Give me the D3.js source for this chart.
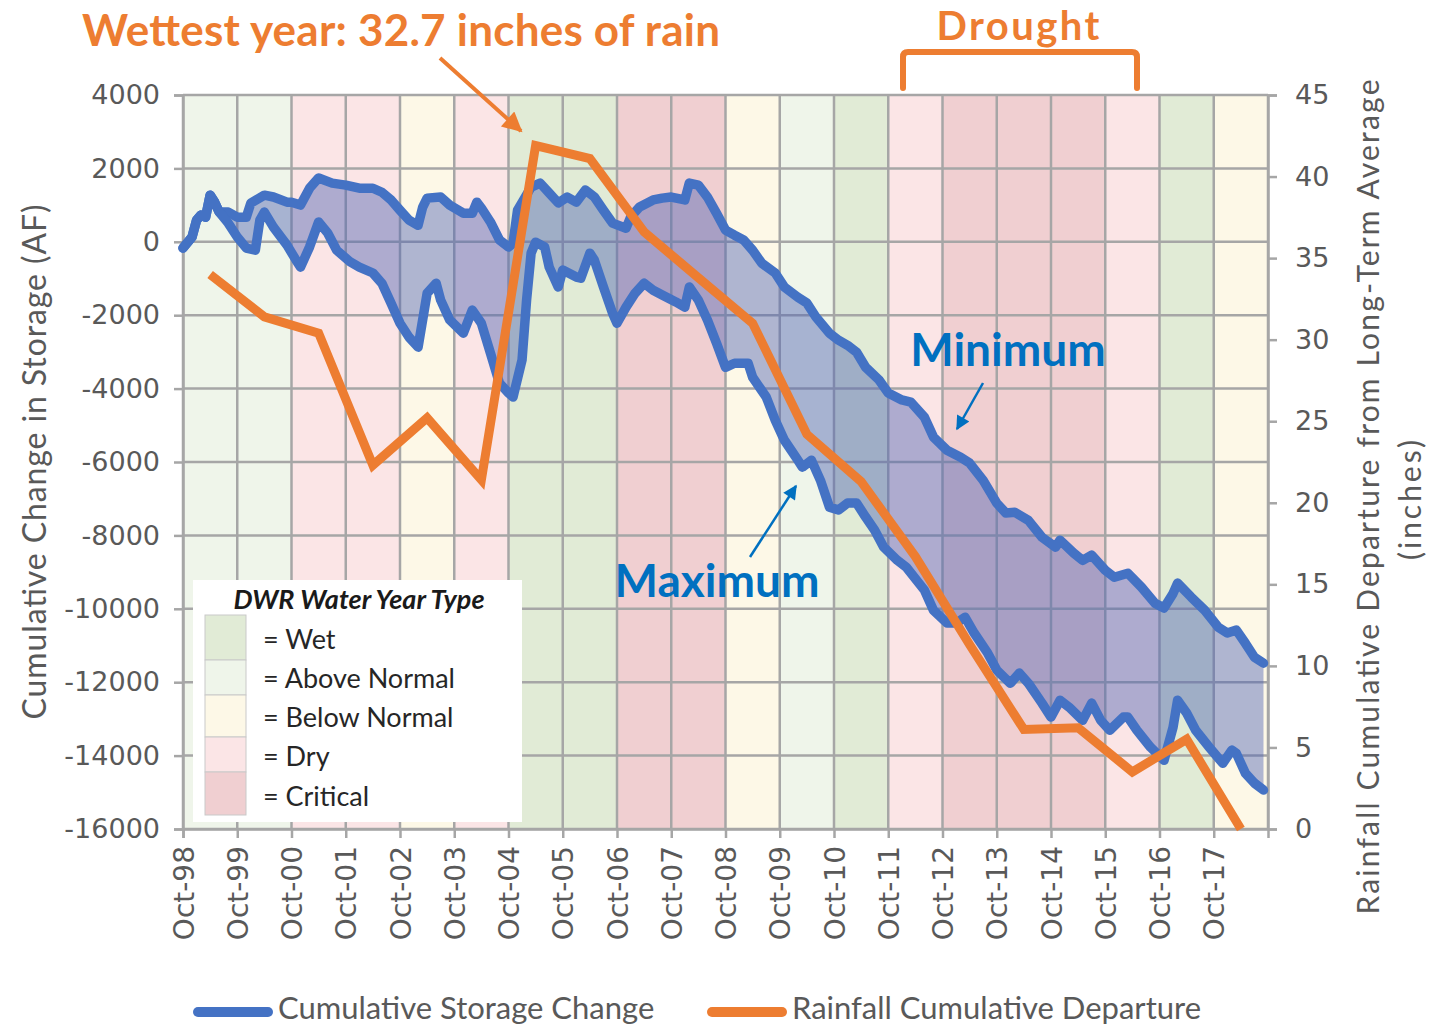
<!DOCTYPE html>
<html>
<head>
<meta charset="utf-8">
<script src="https://cdn.jsdelivr.net/npm/d3@7"></script>
<style>
  html, body { margin: 0; padding: 0; background: #ffffff; }
  svg { display: block; }
</style>
</head>
<body>
<svg id="chart" width="1447" height="1028"></svg>
<script>
// ---------------- DATA ----------------
const xTickLabels = ["Oct-98","Oct-99","Oct-00","Oct-01","Oct-02","Oct-03","Oct-04","Oct-05","Oct-06","Oct-07",
                     "Oct-08","Oct-09","Oct-10","Oct-11","Oct-12","Oct-13","Oct-14","Oct-15","Oct-16","Oct-17"];
// DWR water year type of each water year (Oct-98 .. Oct-17 start)
const yearTypes = ["AN","AN","D","D","BN","D","W","W","C","C","BN","AN","W","D","C","C","C","D","W","BN"];
const typeNames = ["Wet","Above Normal","Below Normal","Dry","Critical"];
const typeKeys  = ["W","AN","BN","D","C"];

const leftTicks  = [4000,2000,0,-2000,-4000,-6000,-8000,-10000,-12000,-14000,-16000];
const rightTicks = [45,40,35,30,25,20,15,10,5,0];

// Minimum (upper) cumulative storage change: months since Oct-98, AF
const minMonths = [0,2,3,4,5,6,7,8,10,12,14,15,18,20,23,24,26,28,30,33,36,39,42,44,46,48,50,52,53,54,57,59,62,64,65,66,68,70,72,73,74,77,79,81,83,85,87,89,91,93,95,98,99,101,104,106,108,111,112,114,116,118,120,122,124,126,128,131,133,136,138,140,143,145,147,149,151,154,156,159,161,164,166,169,172,174,177,180,182,184,187,190,193,194,197,199,201,204,206,209,212,215,217,219,220,223,226,229,231,233,235,237,239];
const minValues = [-170,130,590,730,670,1270,1080,810,810,670,670,1055,1270,1220,1080,1080,1000,1460,1740,1600,1545,1460,1460,1350,1140,860,590,450,940,1190,1220,1000,780,780,1080,920,540,50,-140,-40,860,1490,1600,1330,1060,1220,1080,1410,1220,860,510,370,670,950,1140,1190,1220,1140,1600,1545,1220,780,320,180,50,-230,-580,-850,-1230,-1510,-1670,-2050,-2490,-2680,-2820,-3010,-3420,-3770,-4120,-4310,-4370,-4780,-5320,-5680,-5870,-6030,-6500,-7120,-7390,-7370,-7590,-8050,-8320,-8130,-8480,-8680,-8540,-8950,-9140,-9030,-9410,-9850,-9980,-9580,-9300,-9680,-10040,-10500,-10660,-10580,-10940,-11320,-11480];

// Maximum (lower) cumulative storage change: months since Oct-98, AF
const maxMonths = [0,2,3,4,5,6,7,8,10,12,14,16,17,18,20,23,25,26,28,30,32,34,37,39,42,44,46,48,50,52,54,56,57,59,62,64,66,68,70,72,73,75,76,77,78,80,81,83,84,87,88,90,91,93,95,96,98,100,102,104,106,109,111,112,114,116,118,120,122,125,126,129,131,133,136,137,139,141,143,145,147,149,151,153,155,158,160,164,166,169,171,173,175,178,180,183,185,187,190,192,194,196,199,201,203,205,208,209,211,214,217,219,220,222,224,227,230,232,233,235,237,239];
const maxValues = [-170,130,590,730,670,1270,1080,810,510,130,-170,-230,590,810,400,-90,-500,-690,-140,540,240,-230,-550,-690,-850,-1130,-1670,-2220,-2600,-2870,-1400,-1130,-1590,-2130,-2490,-1860,-2220,-3030,-3850,-4120,-4230,-3220,-1590,-310,-10,-140,-690,-1230,-770,-960,-990,-310,-500,-1230,-1940,-2220,-1780,-1400,-1130,-1320,-1450,-1640,-1780,-1230,-1590,-2130,-2760,-3420,-3310,-3310,-3690,-4230,-4860,-5400,-5950,-6140,-5950,-6500,-7230,-7310,-7120,-7120,-7500,-7860,-8320,-8680,-8870,-9490,-10040,-10390,-10390,-10230,-10660,-11210,-11670,-12030,-11750,-12030,-12570,-12950,-12490,-12680,-13040,-12570,-13040,-13310,-12950,-12950,-13310,-13770,-14130,-13230,-12490,-12840,-13310,-13770,-14210,-13850,-13940,-14480,-14750,-14940];

// Rainfall cumulative departure (inches), plotted each April
const rainMonths = [6,18,30,42,54,66,78,90,102,114,126,138,150,162,174,186,198,210,222,234];
const rainValues = [34.0,31.4,30.4,22.3,25.2,21.4,41.9,41.1,36.6,33.8,31.0,24.2,21.3,16.7,11.3,6.1,6.2,3.5,5.5,0.0];

// ---------------- STYLE ----------------
const bgColors = { W:"#e1ebd6", AN:"#eff5ea", BN:"#fdf8e7", D:"#fbe5e6", C:"#f0cfd1" };
const blue = "#4472C4", orange = "#ED7D31", textBlue = "#0070C0", axisGray = "#595959", gridGray = "#a6a6a6";

const L = 183, R = 1268, T = 95, B = 829;
const svg = d3.select("#chart");

const x  = d3.scaleLinear().domain([0, 240]).range([L, R]);
const yL = d3.scaleLinear().domain([-16000, 4000]).range([B, T]);
const yR = d3.scaleLinear().domain([0, 45]).range([B, T]);

// background bands
svg.append("g").selectAll("rect").data(yearTypes).join("rect")
  .attr("x", (d, i) => x(i * 12)).attr("y", T)
  .attr("width", (d, i) => x((i + 1) * 12) - x(i * 12)).attr("height", B - T)
  .attr("fill", d => bgColors[d]);

// grid
const grid = svg.append("g").attr("stroke", gridGray).attr("stroke-width", 2.5);
grid.selectAll("line.h").data(leftTicks).join("line").attr("class","h")
  .attr("x1", L).attr("x2", R).attr("y1", d => yL(d)).attr("y2", d => yL(d));
grid.selectAll("line.v").data(d3.range(0, 21)).join("line").attr("class","v")
  .attr("x1", d => x(d * 12)).attr("x2", d => x(d * 12)).attr("y1", T).attr("y2", B);

// axes
const axL = svg.append("g").attr("transform", `translate(${L},0)`)
  .call(d3.axisLeft(yL).tickValues(leftTicks).tickSize(9).tickPadding(14).tickFormat(d => String(d)));
const axR = svg.append("g").attr("transform", `translate(${R},0)`)
  .call(d3.axisRight(yR).tickValues(rightTicks).tickSize(9).tickPadding(18));
const axB = svg.append("g").attr("transform", `translate(0,${B})`)
  .call(d3.axisBottom(x).tickValues(d3.range(0, 20).map(i => i * 12)).tickSize(9)
        .tickFormat((d, i) => xTickLabels[i]));
[axL, axR, axB].forEach(a => {
  a.select(".domain").attr("stroke", gridGray).attr("stroke-width", 2.5);
  a.selectAll(".tick line").attr("stroke", gridGray).attr("stroke-width", 2.5);
  a.selectAll("text").attr("fill", axisGray).style("font-family", "DejaVu Sans").style("font-size", "27px");
});
axB.selectAll("text")
  .style("font-size", "28px")
  .attr("transform", "rotate(-90)").attr("text-anchor", "end")
  .attr("x", -17).attr("y", 0).attr("dy", "0.36em");

// legend box (water year type)
const lg = svg.append("g");
lg.append("rect").attr("x", 193).attr("y", 580).attr("width", 329).attr("height", 242).attr("fill", "#ffffff");
lg.append("text").attr("x", 359).attr("y", 609).attr("text-anchor", "middle")
  .style("font-family", "Lato").style("font-weight", "bold").style("font-style", "italic")
  .style("font-size", "27px").attr("fill", "#1a1a1a").text("DWR Water Year Type");
const swY = [615, 660, 695, 737, 772, 815];
typeKeys.forEach((k, i) => {
  lg.append("rect").attr("x", 205).attr("y", swY[i]).attr("width", 41).attr("height", swY[i + 1] - swY[i])
    .attr("fill", bgColors[k]).attr("stroke", "#c9c9c9").attr("stroke-width", 1);
});
const labY = [640, 679, 718, 757, 797];
typeNames.forEach((n, i) => {
  lg.append("text").attr("x", 263).attr("y", labY[i]).attr("dy", "0.35em")
    .style("font-family", "Lato").style("font-size", "27px").attr("fill", "#262626").text("= " + n);
});

// filled band between min and max
const minPts = minMonths.map((m, i) => [m, minValues[i]]);
const maxPts = maxMonths.map((m, i) => [m, maxValues[i]]);
const poly = minPts.concat(maxPts.slice().reverse());
const lineGen = d3.line().x(d => x(d[0])).y(d => yL(d[1]));
svg.append("path").attr("d", lineGen(poly) + "Z")
  .attr("fill", "rgb(80,100,180)").attr("fill-opacity", 0.45);

// blue lines
[minPts, maxPts].forEach(pts => {
  svg.append("path").attr("d", lineGen(pts)).attr("fill", "none")
    .attr("stroke", blue).attr("stroke-width", 9.5).attr("stroke-linejoin", "round").attr("stroke-linecap", "round");
});

// orange line
const rainLine = d3.line().x(d => x(d[0])).y(d => yR(d[1]));
svg.append("path").attr("d", rainLine(rainMonths.map((m, i) => [m, rainValues[i]])))
  .attr("fill", "none").attr("stroke", orange).attr("stroke-width", 9)
  .attr("stroke-linejoin", "miter").attr("stroke-linecap", "butt");

// axis titles
svg.append("text").attr("transform", "translate(35,462) rotate(-90)").attr("text-anchor", "middle")
  .attr("dy", "0.35em").style("font-family", "Lato").style("font-size", "32px").attr("fill", axisGray)
  .attr("textLength", 515).attr("lengthAdjust", "spacing")
  .text("Cumulative Change in Storage (AF)");
svg.append("text").attr("transform", "translate(1368,497) rotate(-90)").attr("text-anchor", "middle")
  .attr("dy", "0.35em").style("font-family", "Lato").style("font-size", "30px").attr("fill", axisGray)
  .attr("textLength", 835).attr("lengthAdjust", "spacing")
  .text("Rainfall Cumulative Departure from Long-Term  Average");
svg.append("text").attr("transform", "translate(1410,500) rotate(-90)").attr("text-anchor", "middle")
  .attr("dy", "0.35em").style("font-family", "Lato").style("font-size", "30px").attr("fill", axisGray)
  .attr("textLength", 120).attr("lengthAdjust", "spacing")
  .text("(inches)");

// bottom legend
const bl = svg.append("g");
[[193, blue, "Cumulative Storage Change"], [707, orange, "Rainfall Cumulative Departure"]].forEach(([x0, c, t]) => {
  bl.append("line").attr("x1", x0 + 5).attr("x2", x0 + 75).attr("y1", 1012).attr("y2", 1012)
    .attr("stroke", c).attr("stroke-width", 10).attr("stroke-linecap", "round");
  bl.append("text").attr("x", x0 + 85).attr("y", 1008).attr("dy", "0.35em")
    .style("font-family", "Lato").style("font-size", "31px").attr("fill", axisGray).text(t);
});

// annotations
const defs = svg.append("defs");
function marker(id, color, w, h) {
  defs.append("marker").attr("id", id).attr("viewBox", "0 0 10 10").attr("refX", 9).attr("refY", 5)
    .attr("markerWidth", w).attr("markerHeight", h).attr("orient", "auto").attr("markerUnits", "userSpaceOnUse")
    .append("path").attr("d", "M0,0 L10,5 L0,10 Z").attr("fill", color);
}
marker("arrO", orange, 24, 20);
marker("arrB", textBlue, 18, 14);

svg.append("text").attr("x", 82).attr("y", 46)
  .style("font-family", "Lato").style("font-weight", "bold").style("font-size", "44px").attr("fill", orange)
  .attr("textLength", 638).attr("lengthAdjust", "spacing")
  .text("Wettest year: 32.7 inches of rain");
svg.append("line").attr("x1", 440).attr("y1", 58).attr("x2", 521).attr("y2", 131)
  .attr("stroke", orange).attr("stroke-width", 4).attr("marker-end", "url(#arrO)");

svg.append("text").attr("x", 1018).attr("y", 40).attr("text-anchor", "middle")
  .style("font-family", "Lato").style("font-weight", "bold").style("font-size", "40px").attr("fill", orange)
  .attr("textLength", 163).attr("lengthAdjust", "spacing")
  .text("Drought");
svg.append("path").attr("d", "M903,88 L903,57 Q903,52 908,52 L1132,52 Q1137,52 1137,57 L1137,88")
  .attr("fill", "none").attr("stroke", orange).attr("stroke-width", 6).attr("stroke-linecap", "round");

svg.append("text").attr("x", 1008).attr("y", 366).attr("text-anchor", "middle")
  .style("font-family", "Lato").style("font-weight", "bold").style("font-size", "46px").attr("fill", textBlue)
  .text("Minimum");
svg.append("line").attr("x1", 983).attr("y1", 383).attr("x2", 957).attr("y2", 429)
  .attr("stroke", textBlue).attr("stroke-width", 2.5).attr("marker-end", "url(#arrB)");

svg.append("text").attr("x", 717).attr("y", 597).attr("text-anchor", "middle")
  .style("font-family", "Lato").style("font-weight", "bold").style("font-size", "46px").attr("fill", textBlue)
  .text("Maximum");
svg.append("line").attr("x1", 750).attr("y1", 557).attr("x2", 796).attr("y2", 486)
  .attr("stroke", textBlue).attr("stroke-width", 2.5).attr("marker-end", "url(#arrB)");
</script>
</body>
</html>
